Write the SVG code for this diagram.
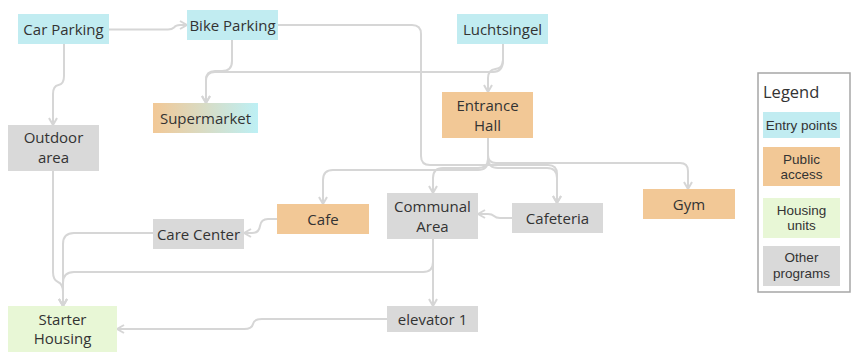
<svg xmlns="http://www.w3.org/2000/svg" width="857" height="362" viewBox="0 0 857 362">
  <style>
    .entry { fill: #C1ECF1; }
    .public { fill: #F2C896; }
    .housing { fill: #E8F7D6; }
    .other { fill: #D9D9D9; }
    text { font-family: "Open Sans", "Noto Sans", sans-serif; fill: #333333; text-anchor: middle; }
    .lbl { font-size: 15px; }
    .leg { font-family: "Liberation Sans", Arial, sans-serif; font-size: 13.5px; }
    .title { font-size: 16.5px; text-anchor: start; }
    .conn { fill: none; stroke: #D6D6D6; stroke-width: 2; stroke-linejoin: round; }
    .arr { marker-end: url(#chev); }
  </style>
  <defs>
    <marker id="chev" viewBox="0 0 10 10" refX="9" refY="5" markerWidth="5" markerHeight="5" orient="auto">
      <path d="M2,1 L9,5 L2,9" fill="none" stroke="#D6D6D6" stroke-width="2"/>
    </marker>
    <linearGradient id="mixed" x1="0" y1="0" x2="1" y2="0">
      <stop offset="0" stop-color="#F2C896"/>
      <stop offset="1" stop-color="#BDF0F5"/>
    </linearGradient>
  </defs>

  <rect width="857" height="362" fill="#FFFFFF"/>

  <!-- connectors -->
  <g id="connectors">
    <path class="conn arr" d="M109,29.5 H168 Q172,29.5 174,27.5 Q176,25 180,25 H187"/>
    <path class="conn arr" d="M64,44 V76 Q64,84 58.5,85 Q53,86 53,94 V125"/>
    <path class="conn arr" d="M232,40 V61 Q232,71 222,71 H215 Q206,71 206,80 V103"/>
    <path class="conn arr" d="M503,44 V60 Q503,72 493,72 H215 Q206,72 206,81 V103"/>
    <path class="conn arr" d="M503,44 V60 Q503,68 495.5,69 Q488,70 488,78 V92"/>
    <path class="conn arr" d="M277,25 H412 Q421,25 421,34 V156 Q421,165 430,165 H548 Q557,165 557,174 V203"/>
    <path class="conn arr" d="M488,138 V158 Q488,168 498,168 H547 Q557,168 557,178 V203"/>
    <path class="conn arr" d="M488,138 V155 Q488,163 496,163 H680 Q688,163 688,171 V189"/>
    <path class="conn arr" d="M488,138 V160 Q488,170 478,170 H333 Q323,170 323,180 V204"/>
    <path class="conn arr" d="M488,138 V159 Q488,168 478,168 H443 Q433,168 433,178 V193"/>
    <path class="conn arr" d="M512,218 H500 Q496,218 494,216 Q492,214 488,214 H478"/>
    <path class="conn arr" d="M277,219 H268 Q261,219 260,226 Q259,233 252,233 H244"/>
    <path class="conn arr" d="M153,233 H74 Q63,233 63,244 V306"/>
    <path class="conn arr" d="M53,171 V272 Q53,280 58,282 Q63,284 63,292 V306"/>
    <path class="conn arr" d="M433,239 V262 Q433,272 423,272 H74 Q63,272 63,283 V306"/>
    <path class="conn arr" d="M433,239 V306"/>
    <path class="conn arr" d="M387,319 H262 Q254,319 253,324 Q252,329 244,329 H117"/>
  </g>

  <!-- nodes -->
  <g id="car-parking">
    <rect class="entry" x="18" y="14" width="91" height="30"/>
    <text class="lbl" x="63.5" y="35">Car Parking</text>
  </g>
  <g id="bike-parking">
    <rect class="entry" x="187" y="10" width="91" height="30"/>
    <text class="lbl" x="232.5" y="30.5">Bike Parking</text>
  </g>
  <g id="luchtsingel">
    <rect class="entry" x="457" y="14" width="91" height="30"/>
    <text class="lbl" x="502.5" y="35">Luchtsingel</text>
  </g>
  <g id="supermarket">
    <rect fill="url(#mixed)" x="153" y="103" width="105" height="30"/>
    <text class="lbl" x="205.5" y="123.5">Supermarket</text>
  </g>
  <g id="outdoor-area">
    <rect class="other" x="8" y="125" width="91" height="46"/>
    <text class="lbl" x="53.5" y="143">Outdoor</text>
    <text class="lbl" x="53.5" y="163">area</text>
  </g>
  <g id="entrance-hall">
    <rect class="public" x="442" y="92" width="91" height="46"/>
    <text class="lbl" x="487.5" y="111">Entrance</text>
    <text class="lbl" x="487.5" y="130.5">Hall</text>
  </g>
  <g id="gym">
    <rect class="public" x="643" y="189" width="92" height="30"/>
    <text class="lbl" x="689" y="209.5">Gym</text>
  </g>
  <g id="cafe">
    <rect class="public" x="277" y="204" width="92" height="30"/>
    <text class="lbl" x="323" y="224.5">Cafe</text>
  </g>
  <g id="care-center">
    <rect class="other" x="153" y="219" width="91" height="30"/>
    <text class="lbl" x="198.5" y="239.5">Care Center</text>
  </g>
  <g id="communal-area">
    <rect class="other" x="387" y="193" width="91" height="46"/>
    <text class="lbl" x="432.5" y="212">Communal</text>
    <text class="lbl" x="432.5" y="231.5">Area</text>
  </g>
  <g id="cafeteria">
    <rect class="other" x="512" y="203" width="91" height="30"/>
    <text class="lbl" x="557.5" y="223.5">Cafeteria</text>
  </g>
  <g id="elevator-1">
    <rect class="other" x="387" y="306" width="91" height="26"/>
    <text class="lbl" x="432.5" y="324.5">elevator 1</text>
  </g>
  <g id="starter-housing">
    <rect class="housing" x="8" y="306" width="109" height="46"/>
    <text class="lbl" x="62.5" y="324.5">Starter</text>
    <text class="lbl" x="62.5" y="344">Housing</text>
  </g>

  <!-- legend -->
  <g id="legend">
    <rect x="758" y="73" width="92" height="219" fill="#FFFFFF" stroke="#A6A6A6" stroke-width="1.5"/>
    <text class="title" x="763" y="97.5">Legend</text>
    <rect class="entry" x="763" y="112" width="77" height="26"/>
    <text class="leg" x="801.5" y="129.5">Entry points</text>
    <rect class="public" x="763" y="147" width="77" height="39"/>
    <text class="leg" x="801.5" y="163.5">Public</text>
    <text class="leg" x="801.5" y="179">access</text>
    <rect class="housing" x="763" y="198" width="77" height="40"/>
    <text class="leg" x="801.5" y="214.5">Housing</text>
    <text class="leg" x="801.5" y="230">units</text>
    <rect class="other" x="763" y="246" width="77" height="40"/>
    <text class="leg" x="801.5" y="262">Other</text>
    <text class="leg" x="801.5" y="277.5">programs</text>
  </g>
</svg>
